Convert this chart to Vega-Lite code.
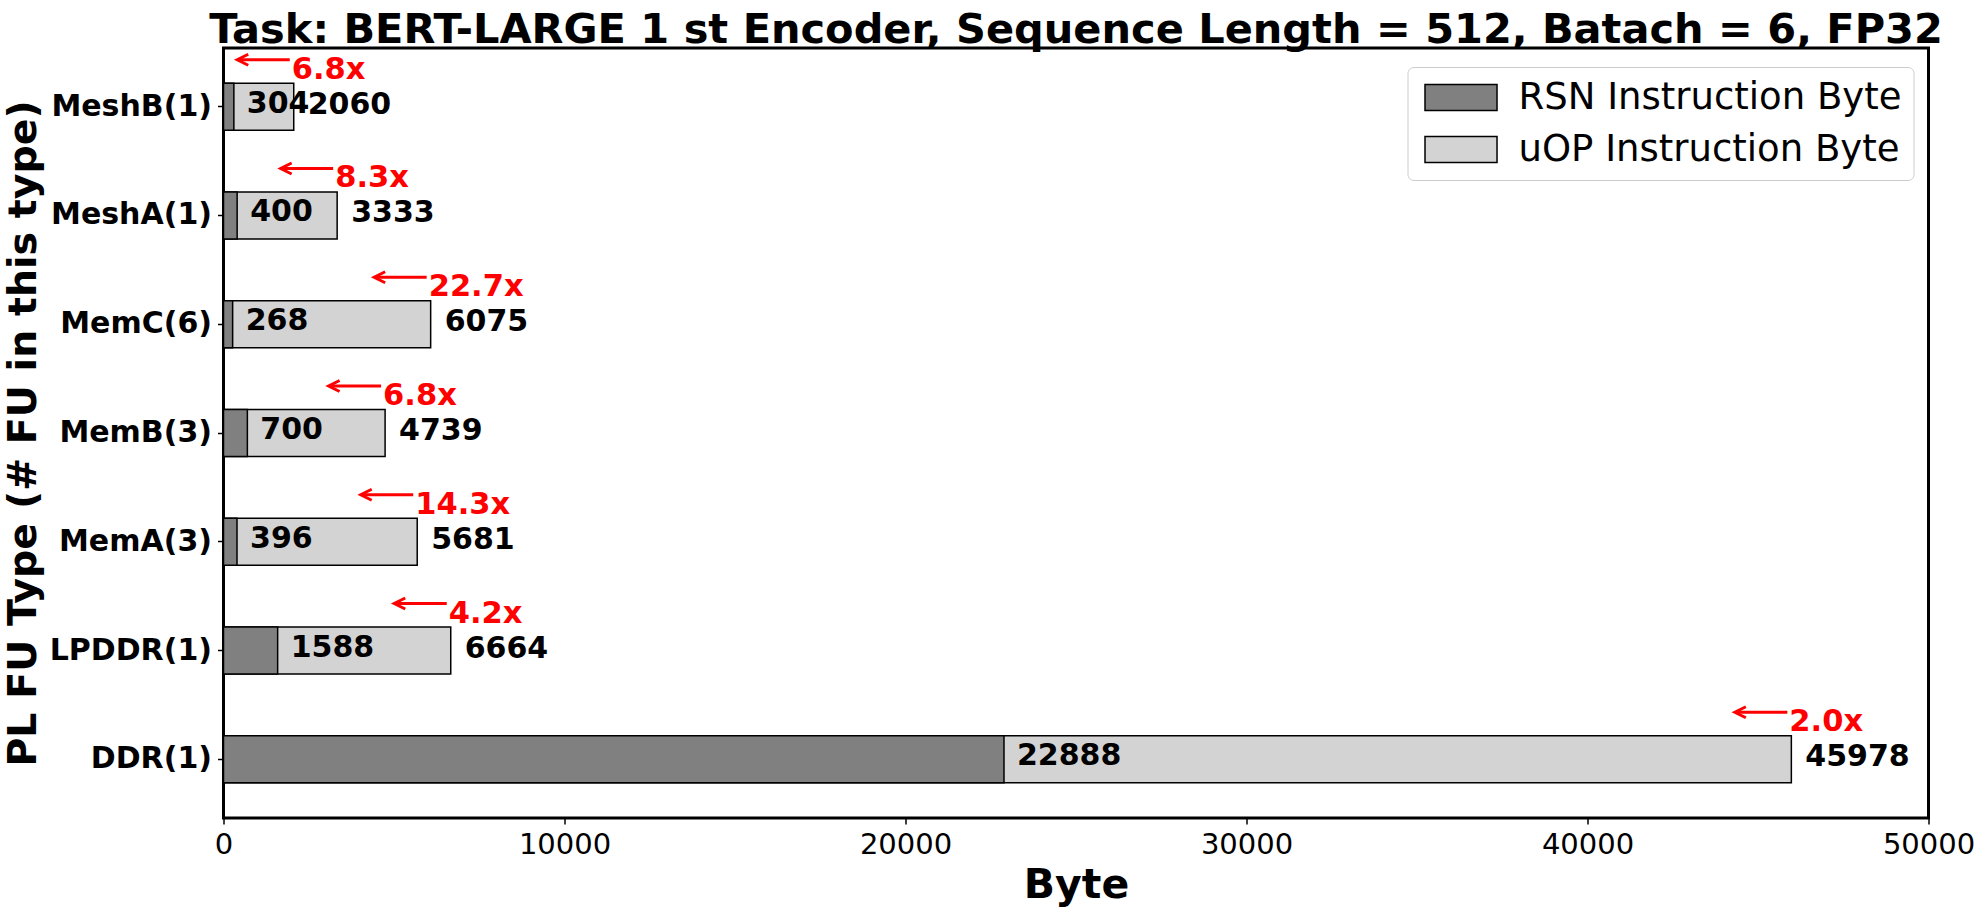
{
  "$schema": "https://vega.github.io/schema/vega-lite/v6.json",
  "width": 1705,
  "height": 770,
  "autosize": {"type": "none"},
  "padding": {"left": 223.5, "top": 48, "right": 51.5, "bottom": 96},
  "background": "white",
  "title": {
    "text": "Task: BERT-LARGE 1 st Encoder, Sequence Length = 512, Batach = 6, FP32",
    "fontSize": 41.5,
    "fontWeight": "bold",
    "font": "DejaVu Sans",
    "color": "black",
    "anchor": "middle",
    "offset": -3
  },
  "config": {
    "font": "DejaVu Sans",
    "view": {"stroke": "black", "strokeWidth": 3},
    "axis": {"grid": false, "domain": false, "tickColor": "black", "tickWidth": 1.5, "tickSize": 6, "labelColor": "black", "titleColor": "black"},
    "legend": {
      "fillColor": "white",
      "strokeColor": "#cccccc",
      "cornerRadius": 6,
      "padding": 12,
      "labelFontSize": 37,
      "labelColor": "black",
      "labelLimit": 0,
      "labelOffset": 62,
      "rowPadding": 14,
      "symbolType": "M-1,-1L4.54,-1L4.54,1L-1,1Z",
      "symbolSize": 676,
      "symbolStrokeColor": "black",
      "symbolStrokeWidth": 1.5,
      "symbolOpacity": 1,
      "orient": "none",
      "legendX": 1184,
      "legendY": 19
    }
  },
  "data": {
    "values": [
      {"type": "MeshB(1)", "rsn": 304, "uop": 2060, "ratio": "6.8x"},
      {"type": "MeshA(1)", "rsn": 400, "uop": 3333, "ratio": "8.3x"},
      {"type": "MemC(6)", "rsn": 268, "uop": 6075, "ratio": "22.7x"},
      {"type": "MemB(3)", "rsn": 700, "uop": 4739, "ratio": "6.8x"},
      {"type": "MemA(3)", "rsn": 396, "uop": 5681, "ratio": "14.3x"},
      {"type": "LPDDR(1)", "rsn": 1588, "uop": 6664, "ratio": "4.2x"},
      {"type": "DDR(1)", "rsn": 22888, "uop": 45978, "ratio": "2.0x"}
    ]
  },
  "encoding": {
    "y": {
      "field": "type",
      "type": "nominal",
      "sort": ["MeshB(1)", "MeshA(1)", "MemC(6)", "MemB(3)", "MemA(3)", "LPDDR(1)", "DDR(1)"],
      "scale": {"paddingInner": 0, "paddingOuter": 0.04},
      "axis": {
        "title": "PL FU Type (# FU in this type)",
        "titleFontSize": 39.5,
        "titleFontWeight": "bold",
        "titlePadding": 6,
        "labelFontSize": 30,
        "labelFontWeight": "bold",
        "labelPadding": 6
      }
    }
  },
  "layer": [
    {
      "mark": {"type": "bar", "height": {"band": 0.432}, "stroke": "black", "strokeWidth": 1.5, "opacity": 1},
      "encoding": {
        "x": {
          "field": "uop",
          "type": "quantitative",
          "scale": {"domain": [0, 50000], "nice": false},
          "axis": {
            "title": "Byte",
            "titleFontSize": 41,
            "titleFontWeight": "bold",
            "titlePadding": 6,
            "labelFontSize": 29,
            "labelPadding": 6,
            "values": [0, 10000, 20000, 30000, 40000, 50000],
            "format": "d",
            "labelFlush": false
          }
        },
        "color": {
          "datum": "uOP Instruction Byte",
          "scale": {"domain": ["RSN Instruction Byte", "uOP Instruction Byte"], "range": ["#808080", "#d3d3d3"]},
          "legend": {"title": null}
        }
      }
    },
    {
      "mark": {"type": "bar", "height": {"band": 0.432}, "stroke": "black", "strokeWidth": 1.5, "opacity": 1},
      "encoding": {
        "x": {"field": "rsn", "type": "quantitative"},
        "color": {"datum": "RSN Instruction Byte"}
      }
    },
    {
      "mark": {"type": "text", "align": "left", "baseline": "middle", "dx": 13, "dy": -3, "fontSize": 30, "fontWeight": "bold", "color": "black"},
      "encoding": {
        "x": {"field": "rsn", "type": "quantitative"},
        "text": {"field": "rsn", "type": "quantitative", "format": "d"}
      }
    },
    {
      "mark": {"type": "text", "align": "left", "baseline": "middle", "dx": 14, "dy": -2, "fontSize": 30, "fontWeight": "bold", "color": "black"},
      "encoding": {
        "x": {"field": "uop", "type": "quantitative"},
        "text": {"field": "uop", "type": "quantitative", "format": "d"}
      }
    },
    {
      "mark": {"type": "rule", "color": "red", "strokeWidth": 3, "xOffset": -4, "x2Offset": -55, "yOffset": -47},
      "encoding": {
        "x": {"field": "uop", "type": "quantitative"},
        "x2": {"field": "uop"}
      }
    },
    {
      "mark": {"type": "point", "shape": "M1,-1L-1,0L1,1", "size": 121, "filled": false, "stroke": "red", "strokeWidth": 3, "opacity": 1, "xOffset": -51, "yOffset": -47},
      "encoding": {
        "x": {"field": "uop", "type": "quantitative"}
      }
    },
    {
      "mark": {"type": "text", "align": "left", "baseline": "middle", "dx": -2, "yOffset": -37, "fontSize": 30.5, "fontWeight": "bold", "color": "red"},
      "encoding": {
        "x": {"field": "uop", "type": "quantitative"},
        "text": {"field": "ratio", "type": "nominal"}
      }
    }
  ]
}
